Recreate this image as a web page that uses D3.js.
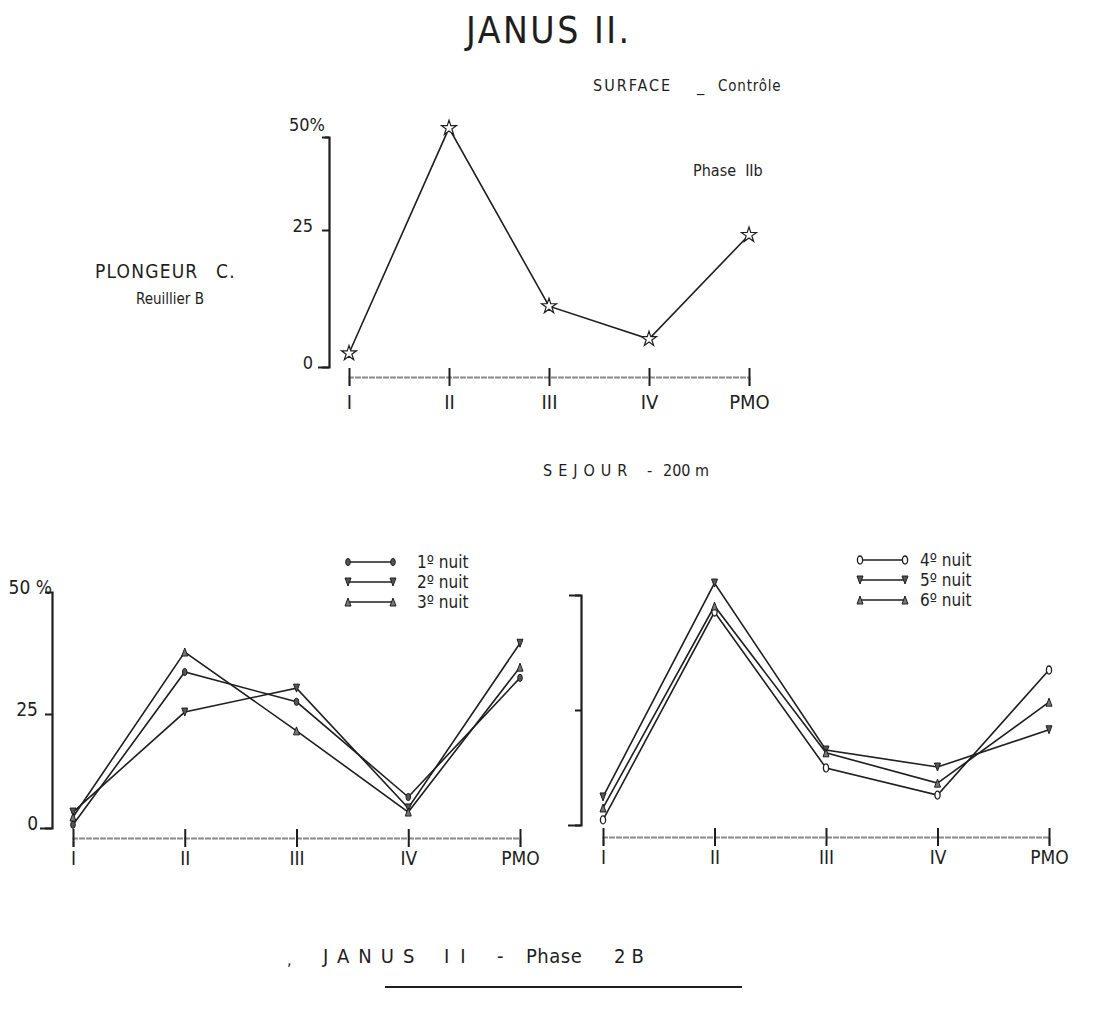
<!DOCTYPE html>
<html>
<head>
<meta charset="utf-8">
<script src="https://cdn.jsdelivr.net/npm/d3@7"></script>
<style>
  html, body { margin: 0; padding: 0; background: #fff; }
  svg { display: block; }
  text { font-family: "Liberation Sans Narrow", "DejaVu Sans Condensed", "Roboto Condensed", sans-serif; fill: #1e1e1e; white-space: pre; }
</style>
</head>
<body>
<svg id="chart" width="1093" height="1019"></svg>
<script>
// ---------------- DATA ----------------
const categories = ["I", "II", "III", "IV", "PMO"];
const surface = [2.5, 52.4, 11.1, 5.1, 24.1];
const nuit1 = [0.7, 33.6, 27.5, 6.8, 32.4];
const nuit2 = [3.5, 25.4, 30.3, 4.4, 39.5];
const nuit3 = [2.4, 37.7, 21.3, 3.5, 34.6];
const nuit4 = [1.1, 46.3, 12.4, 6.5, 33.7];
const nuit5 = [6.1, 52.6, 16.3, 12.6, 20.7];
const nuit6 = [3.7, 47.6, 15.7, 9.1, 26.7];
const yTicks = [0, 25, 50];
const yLabelsTop = ["0", "25", "50%"];
const yLabelsLeft = ["0", "25", "50 %"];
const yLabelsRight = ["", "", ""];
const legendLeft = ["1º nuit", "2º nuit", "3º nuit"];
const legendRight = ["4º nuit", "5º nuit", "6º nuit"];

// ---------------- DRAW ----------------
const svg = d3.select("#chart");
const INK = "#1e1e1e";

function marker(g, kind, x, y) {
  const s = g.append("g").attr("transform", `translate(${x},${y})`);
  if (kind === "star") {
    s.append("path").attr("d", d3.symbol().type(d3.symbolStar).size(70)())
      .attr("fill", "#fff").attr("stroke", INK).attr("stroke-width", 1.2);
  } else if (kind === "oval") {
    s.append("ellipse").attr("rx", 2.3).attr("ry", 3.6).attr("fill", "#555").attr("stroke", INK).attr("stroke-width", 1);
  } else if (kind === "ring") {
    s.append("ellipse").attr("rx", 2.6).attr("ry", 4).attr("fill", "#fff").attr("stroke", INK).attr("stroke-width", 1.3);
  } else if (kind === "down") {
    s.append("path").attr("d", "M-3,-4 L3,-4 L0,4 Z").attr("fill", "#555").attr("stroke", INK).attr("stroke-width", 1);
  } else if (kind === "up") {
    s.append("path").attr("d", "M-3,4 L3,4 L0,-4 Z").attr("fill", "#777").attr("stroke", INK).attr("stroke-width", 1);
  }
}

function panel(cfg) {
  const g = svg.append("g");
  const x = d3.scalePoint().domain(categories).range(cfg.xRange);
  const y = d3.scaleLinear().domain(yTicks).range(cfg.yRange);

  // y axis
  const ya = g.append("g").attr("transform", `translate(${cfg.yAxisX},0)`)
    .call(d3.axisLeft(y).tickValues(yTicks).tickSizeOuter(0).tickSize(cfg.yTickSize)
      .tickPadding(cfg.yTickPad).tickFormat((d, i) => cfg.yLabels[i]));
  ya.select(".domain").attr("stroke", INK).attr("stroke-width", 2.2);
  ya.selectAll(".tick line").attr("stroke", INK).attr("stroke-width", 2);
  ya.selectAll(".tick text").attr("font-size", cfg.yFont).attr("fill", INK)
    .attr("dy", (d) => d === 50 ? cfg.topLabelDy : "0.1em")
    .attr("x", (d) => d === 50 ? cfg.topLabelX : -(cfg.yTickSize + cfg.yTickPad));
  ya.selectAll(".tick").filter(d => d === 50).select("line").attr("x2", -cfg.topTick);
  ya.selectAll(".tick").filter(d => d === 0).select("line").attr("x2", -cfg.zeroTick);

  // x axis
  const xa = g.append("g").attr("transform", `translate(0,${cfg.xAxisY})`)
    .call(d3.axisBottom(x).tickSizeOuter(0).tickSize(9).tickPadding(cfg.xPad));
  xa.select(".domain").attr("stroke", "#8a8a8a").attr("stroke-width", 1.8).attr("stroke-dasharray", "6,1");
  xa.selectAll(".tick line").attr("y1", -9).attr("y2", 9).attr("stroke", INK).attr("stroke-width", 2);
  xa.selectAll(".tick text").attr("font-size", cfg.xFont).attr("fill", INK);

  const line = d3.line().x((d, i) => x(categories[i])).y(d => y(d));
  cfg.series.forEach(s => {
    g.append("path").datum(s.values).attr("d", line)
      .attr("fill", "none").attr("stroke", INK).attr("stroke-width", 1.6).attr("stroke-linejoin", "miter");
  });
  cfg.series.forEach(s => {
    s.values.forEach((v, i) => marker(g, s.kind, x(categories[i]), y(v)));
  });

  if (cfg.legend) {
    cfg.series.forEach((s, i) => {
      const ly = cfg.legend.y0 + i * 20;
      g.append("line").attr("x1", cfg.legend.x0).attr("x2", cfg.legend.x1)
        .attr("y1", ly).attr("y2", ly).attr("stroke", INK).attr("stroke-width", 1.3);
      marker(g, s.kind, cfg.legend.x0, ly);
      marker(g, s.kind, cfg.legend.x1, ly);
      g.append("text").attr("x", cfg.legend.tx).attr("y", ly + 6)
        .attr("font-size", 17).text(cfg.legend.labels[i]);
    });
  }
}

// Top panel : surface
panel({
  xRange: [349, 749], yRange: [367, 230, 137], yAxisX: 329, xAxisY: 377,
  yTickSize: 7, yTickPad: 9, yFont: 18, yLabels: yLabelsTop, topLabelDy: "-0.35em", topLabelX: -4,
  topTick: 4, zeroTick: 11, xPad: 9, xFont: 20,
  series: [{ values: surface, kind: "star" }]
});

// Bottom left panel : nights 1-3
panel({
  xRange: [73, 520], yRange: [828, 714, 592], yAxisX: 52, xAxisY: 838,
  yTickSize: 7, yTickPad: 7, yFont: 19, yLabels: yLabelsLeft, topLabelDy: "0.1em", topLabelX: 0,
  topTick: 0, zeroTick: 12, xPad: 5, xFont: 19,
  series: [
    { values: nuit1, kind: "oval" },
    { values: nuit2, kind: "down" },
    { values: nuit3, kind: "up" }
  ],
  legend: { x0: 348, x1: 393, y0: 562, tx: 417, labels: legendLeft }
});

// Bottom right panel : nights 4-6
panel({
  xRange: [603, 1049], yRange: [825, 710, 595], yAxisX: 581, xAxisY: 837,
  yTickSize: 6, yTickPad: 4, yFont: 18, yLabels: yLabelsRight, topLabelDy: "0", topLabelX: 0,
  topTick: 12, zeroTick: 13, xPad: 5, xFont: 19,
  series: [
    { values: nuit4, kind: "ring" },
    { values: nuit5, kind: "down" },
    { values: nuit6, kind: "up" }
  ],
  legend: { x0: 860, x1: 905, y0: 560, tx: 920, labels: legendRight }
});

// ---------------- TEXTS ----------------
svg.append("text").attr("x", 466).attr("y", 43).attr("font-size", 37)
  .attr("letter-spacing", 2.5).text("JANUS II.");
svg.append("text").attr("x", 593).attr("y", 91).attr("font-size", 16).attr("letter-spacing", 2).text("SURFACE");
svg.append("text").attr("x", 697).attr("y", 91).attr("font-size", 16).text("_");
svg.append("text").attr("x", 718).attr("y", 91).attr("font-size", 15).attr("letter-spacing", 0.8).text("Contrôle");
svg.append("text").attr("x", 693).attr("y", 176).attr("font-size", 16).text("Phase  IIb");
svg.append("text").attr("x", 95).attr("y", 278).attr("font-size", 19).attr("letter-spacing", 1.2).text("PLONGEUR");
svg.append("text").attr("x", 216).attr("y", 278).attr("font-size", 19).attr("letter-spacing", 1.2).text("C.");
svg.append("text").attr("x", 136).attr("y", 304).attr("font-size", 15).text("Reuillier B");
svg.append("text").attr("x", 543).attr("y", 476).attr("font-size", 16).attr("letter-spacing", 6).text("SEJOUR");
svg.append("text").attr("x", 647).attr("y", 476).attr("font-size", 16).text("-");
svg.append("text").attr("x", 663).attr("y", 476).attr("font-size", 16).text("200 m");
svg.append("text").attr("x", 287).attr("y", 965).attr("font-size", 16).text(",");
svg.append("text").attr("x", 323).attr("y", 963).attr("font-size", 20).attr("letter-spacing", 9).text("JANUS");
svg.append("text").attr("x", 444).attr("y", 963).attr("font-size", 20).attr("letter-spacing", 11).text("II");
svg.append("text").attr("x", 497).attr("y", 963).attr("font-size", 20).text("-");
svg.append("text").attr("x", 526).attr("y", 963).attr("font-size", 20).attr("letter-spacing", 0.5).text("Phase");
svg.append("text").attr("x", 614).attr("y", 963).attr("font-size", 20).attr("letter-spacing", 6).text("2B");
svg.append("line").attr("x1", 385).attr("x2", 742).attr("y1", 987).attr("y2", 987)
  .attr("stroke", INK).attr("stroke-width", 2);
</script>
</body>
</html>
